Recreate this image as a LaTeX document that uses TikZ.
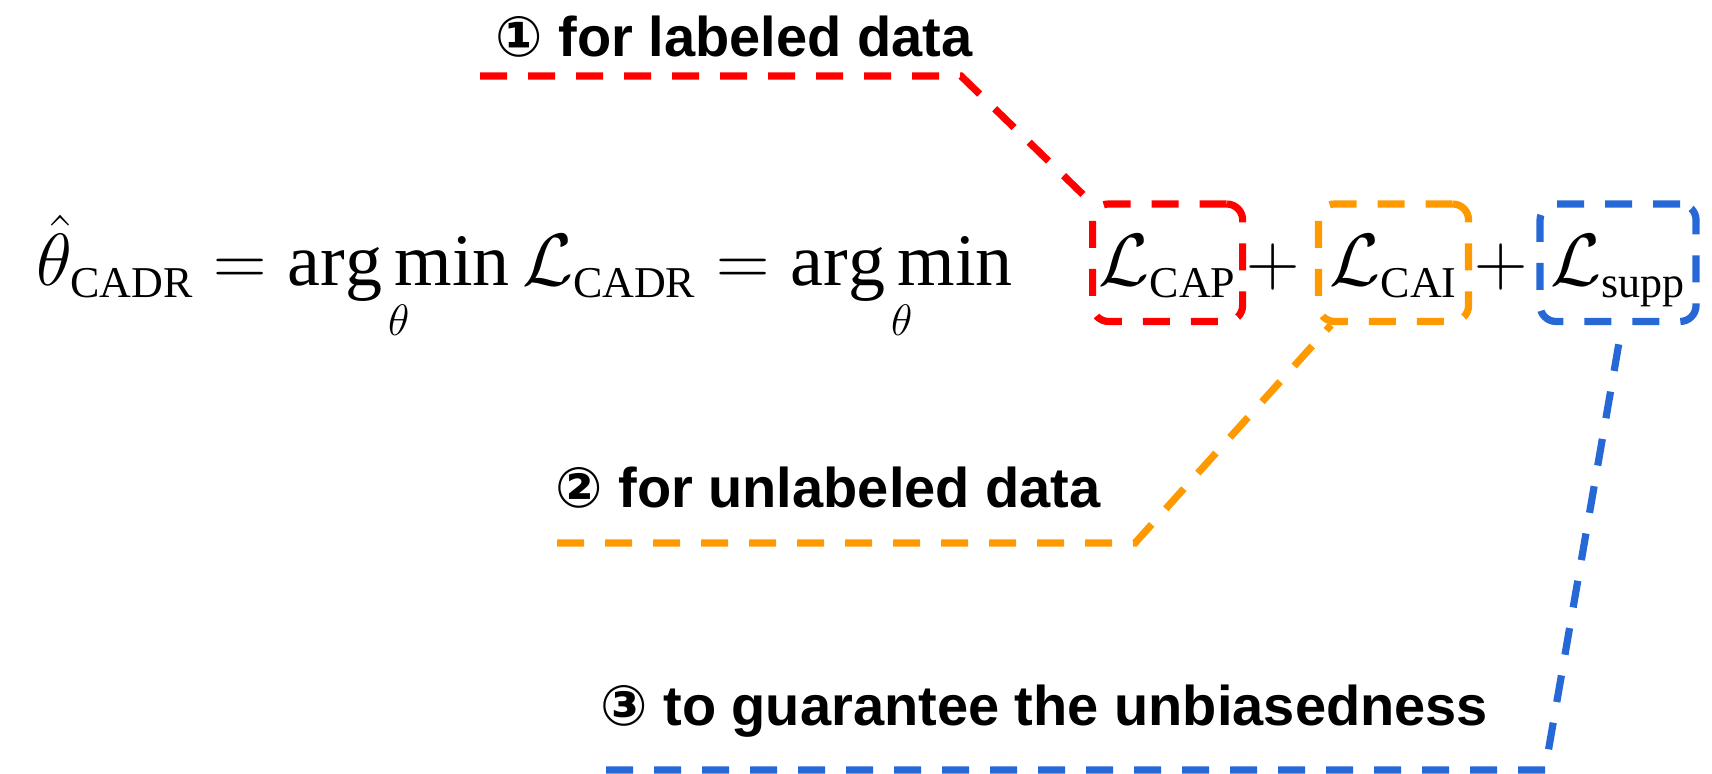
\RequirePackage{fix-cm}
\documentclass[tikz,border=0pt]{standalone}
\usepackage{fontspec}
\setmainfont{Liberation Serif}
\setsansfont{Liberation Sans}
\newfontfamily\circfont{DejaVu Sans}
\usetikzlibrary{positioning}
\DeclareMathSizes{37}{37}{22}{16}
\definecolor{lossred}{RGB}{255,0,0}
\definecolor{lossorange}{RGB}{255,153,0}
\definecolor{lossblue}{RGB}{38,104,214}

\begin{document}
\begin{tikzpicture}
                [x=0.5pt, y=0.5pt,
                  eqpart/.style={inner sep=0pt, font=\fontsize{37}{44}\selectfont},
                  lossbox/.style={eqpart, draw, line width=3.6pt, dash pattern=on 13.5pt off 10.5pt,
                    rounded corners=8pt, inner xsep=3pt, inner ysep=3pt, minimum width=75pt,
                    text height=38pt, text depth=14.75pt},
                  note/.style={inner sep=0pt, anchor=base west, font=\fontsize{28}{34}\selectfont\sffamily\bfseries},
                  leader/.style={line width=3.6pt, dash pattern=on 13.5pt off 10.5pt},
                ]
                \useasboundingbox (0,0) rectangle (1712,774);
                % the equation
                \node [eqpart, anchor=base west] (lhs) at (36,488)
                  {$\displaystyle\hat{\theta}_{\mathrm{CADR}} = \mathop{\mathrm{arg\,min}}\limits_{\theta} \mathcal{L}_{\mathrm{CADR}} = \mathop{\mathrm{arg\,min}}\limits_{\theta}$};
                \node [lossbox, draw=lossred, anchor=base west] (cap) at (1089,488) {$\mathcal{L}_{\mathrm{CAP}}$};
                \node [eqpart, base right=0pt of cap] (plusa) {$+$};
                \node [lossbox, draw=lossorange, base right=7.35pt of plusa] (cai) {$\mathcal{L}_{\mathrm{CAI}}$};
                \node [eqpart, base right=0.75pt of cai] (plusb) {$+$};
                \node [lossbox, draw=lossblue, minimum width=78pt, base right=4.35pt of plusb] (supp) {$\mathcal{L}_{\mathrm{supp}}$};
                % the notes
                \node [note] (notecap) at (495,717) {{\circfont ①} for labeled data};
                \node [note] (notecai) at (555,266) {{\circfont ②} for unlabeled data};
                \node [note] (notesupp) at (600,48) {{\circfont ③} to guarantee the unbiasedness};
                \coordinate (capstart) at (480,698);
                \coordinate (capbend) at (961,698);
                \coordinate (caistart) at (557,231);
                \coordinate (caibend) at (1135,231);
                \coordinate (suppstart) at (606,4);
                \coordinate (suppbend) at (1545,4);
                \draw [leader, lossred] (capstart) -- (capbend) -- (cap.north west);
                \draw [leader, lossorange] (caistart) -- (caibend) -- ([xshift=8pt]cai.south west);
                \draw [leader, lossblue] (suppstart) -- (suppbend) -- ([xshift=2pt]supp.south);
            \end{tikzpicture}
\end{document}
